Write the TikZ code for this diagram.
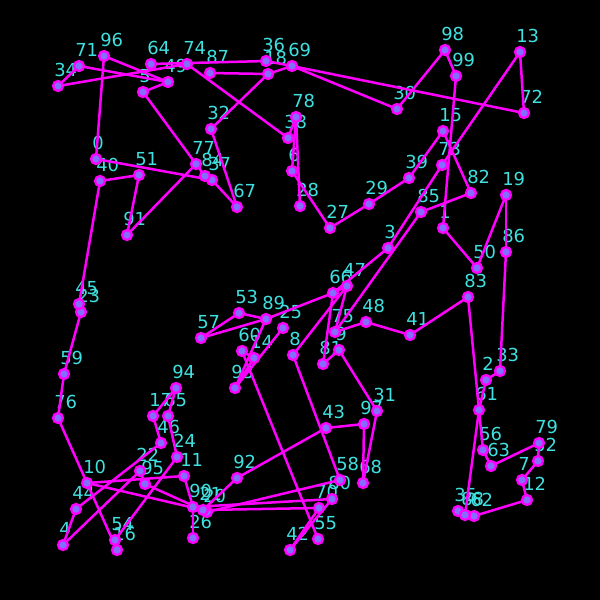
\documentclass[tikz,border=0pt]{standalone}
\usepackage{fontspec}
\setmainfont{DejaVu Sans}
\usetikzlibrary{backgrounds}
\definecolor{edgec}{RGB}{255,0,255}
\definecolor{dotc}{RGB}{130,110,255}
\definecolor{labc}{RGB}{64,224,224}
\tikzset{
  dot/.style={circle, draw=edgec, fill=dotc, line width=0.045cm, minimum size=0.2cm, inner sep=0pt},
  lbl/.style={text=labc, anchor=base west, inner sep=0pt, font=\fontsize{10.2}{11}\selectfont},
  link/.style={draw=edgec, line width=0.05cm},
}
\def\pts{0/96/159, 1/443/228, 2/486/380, 3/388/248, 4/63/545, 5/143/92, 6/292/171, 7/522/480, 8/293/355, 9/339/350,
10/87/483, 11/184/476, 12/527/500, 13/520/52, 14/254/358, 15/443/131, 16/117/550, 17/153/416, 18/268/74, 19/506/195,
20/207/512, 21/203/510, 22/140/471, 23/81/312, 24/177/457, 25/283/328, 26/193/538, 27/330/228, 28/300/206, 29/369/204,
30/397/109, 31/377/411, 32/211/129, 33/500/371, 34/58/86, 35/458/511, 36/266/61, 37/212/180, 38/288/138, 39/409/178,
40/100/181, 41/410/335, 42/290/550, 43/326/428, 44/76/509, 45/79/304, 46/161/443, 47/347/286, 48/366/322, 49/168/82,
50/477/268, 51/139/175, 52/538/461, 53/239/313, 54/115/540, 55/318/539, 56/483/450, 57/201/338, 58/340/480, 59/64/374,
60/242/351, 61/479/410, 62/474/516, 63/491/466, 64/151/64, 65/168/416, 66/333/293, 67/237/207, 68/363/483, 69/292/66,
70/319/508, 71/79/66, 72/524/113, 73/442/165, 74/187/64, 75/335/332, 76/58/418, 77/196/164, 78/296/117, 79/539/443,
80/332/499, 81/323/364, 82/471/193, 83/468/297, 84/205/176, 85/421/212, 86/506/252, 87/210/73, 88/465/515, 89/266/319,
90/193/507, 91/127/235, 92/237/478, 93/235/388, 94/176/388, 95/145/484, 96/104/56, 97/364/424, 98/445/50, 99/456/76}
\begin{document}
\begin{tikzpicture}[x=0.02cm,y=-0.02cm]
\useasboundingbox (0,0) rectangle (600,600);
% points
\foreach \i/\x/\y in \pts {
  \node[dot] (n\i) at (\x,\y) {};
}
\begin{scope}[on background layer]
\fill[black] (0,0) rectangle (600,600);
% labels
\foreach \i/\x/\y in \pts {
  \node[lbl] (l\i) at (\x-4,\y-10) {\i};
}
% links
\foreach \a/\b in {34/71, 34/74, 64/36, 71/49, 96/49, 96/0, 5/49, 5/77, 0/37, 40/51, 40/45, 51/91, 91/77,
  84/37, 37/67, 84/77, 32/67, 32/18, 87/18, 18/69, 36/69, 69/72, 69/30, 74/38, 78/38, 78/28, 78/6, 6/27, 27/29,
  29/39, 39/15, 15/82, 98/30, 98/99, 99/1, 13/72, 13/73, 73/3, 85/82, 85/75, 1/50, 50/19, 19/86, 86/33, 33/2,
  2/61, 83/61, 83/41, 61/56, 61/88, 56/63, 63/79, 79/52, 52/7, 7/12, 12/62, 35/88, 88/62, 41/48, 48/75, 75/47,
  47/66, 66/3, 66/89, 66/81, 8/47, 81/9, 9/31, 57/53, 57/89, 53/89, 89/93, 93/25, 60/14, 14/93, 60/55, 8/58,
  42/70, 42/80, 43/97, 97/68, 31/68, 43/92, 92/21, 58/20, 80/90, 70/21, 45/23, 23/59, 59/76, 76/10, 10/16,
  16/54, 10/11, 10/21, 11/90, 44/46, 44/4, 4/22, 22/95, 95/20, 24/54, 24/65, 46/17, 17/94, 90/26, 65/94}
  \draw[link] (n\a.center) -- (n\b.center);
\end{scope}
\end{tikzpicture}
\end{document}
